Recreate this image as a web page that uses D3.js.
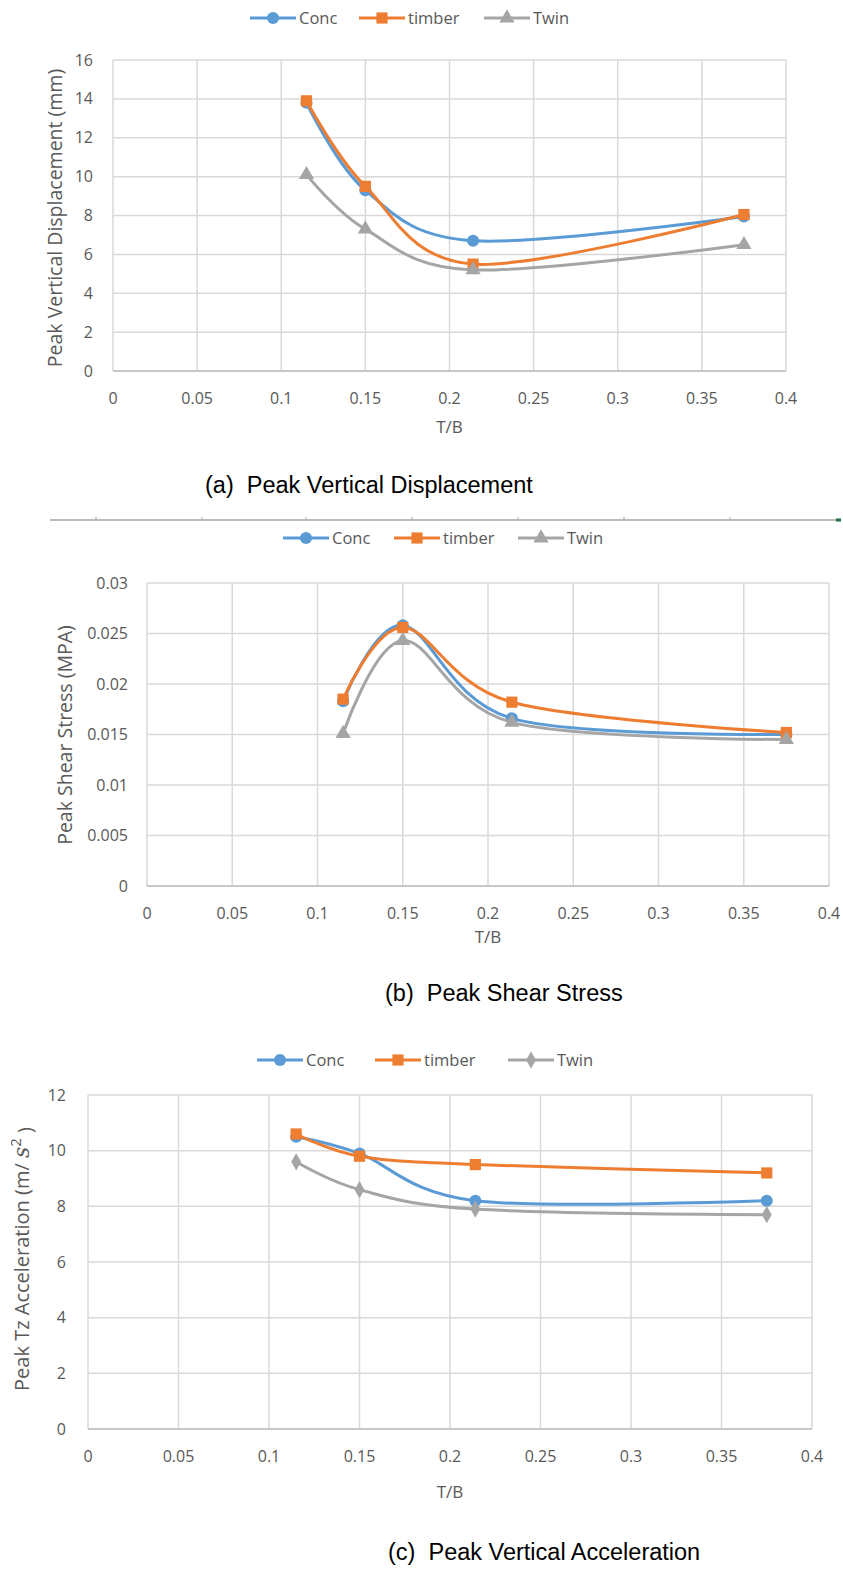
<!DOCTYPE html>
<html>
<head>
<meta charset="utf-8">
<script src="https://cdn.jsdelivr.net/npm/d3@7"></script>
<style>
  body { margin: 0; background: #fff; }
  svg { display: block; }
</style>
</head>
<body>
<div id="chart"></div>
<script>
// x values shared by all three panels
var tbValues = [0.115, 0.15, 0.214, 0.375];
var seriesNames = ["Conc", "timber", "Twin"];

// (a) peak vertical displacement (mm)
var dispConc   = [13.8, 9.3, 6.7, 7.95];
var dispTimber = [13.9, 9.5, 5.5, 8.05];
var dispTwin   = [10.1, 7.3, 5.2, 6.5];

// (b) peak shear stress (MPA)
var shearConc   = [0.0183, 0.0258, 0.0166, 0.0150];
var shearTimber = [0.0185, 0.0256, 0.0182, 0.0152];
var shearTwin   = [0.0151, 0.0243, 0.0162, 0.0145];

// (c) peak Tz acceleration
var accConc   = [10.5, 9.9, 8.2, 8.2];
var accTimber = [10.6, 9.8, 9.5, 9.2];
var accTwin   = [9.6, 8.6, 7.9, 7.7];

// tick labels
var xTicks = [0, 0.05, 0.1, 0.15, 0.2, 0.25, 0.3, 0.35, 0.4];
var dispTicks = [0, 2, 4, 6, 8, 10, 12, 14, 16];
var shearTicks = [0, 0.005, 0.01, 0.015, 0.02, 0.025, 0.03];
var accTicks = [0, 2, 4, 6, 8, 10, 12];

var colors = ["#5B9BD5", "#ED7D31", "#A5A5A5"];
var gridColor = "#D9D9D9";
var textColor = "#595959";
var uiFont = "'Open Sans', 'Noto Sans', sans-serif";

var svg = d3.select("#chart").append("svg")
  .attr("width", 843)
  .attr("height", 1571);

svg.append("rect").attr("width", 843).attr("height", 1571).attr("fill", "#fff");

var fmt = function(d){ return String(+d.toFixed(4)); };

function drawPanel(p) {
  var x = d3.scaleLinear().domain([0, 0.4]).range([p.left, p.right]);
  var y = d3.scaleLinear().domain([0, d3.max(p.yTicks)]).range([p.bottom, p.top]);
  var g = svg.append("g");

  // grid
  g.selectAll(".hgrid").data(p.yTicks).enter().append("line")
    .attr("x1", p.left).attr("x2", p.right)
    .attr("y1", function(d){ return y(d); }).attr("y2", function(d){ return y(d); })
    .attr("stroke", gridColor).attr("stroke-width", 1.5);
  g.selectAll(".vgrid").data(xTicks).enter().append("line")
    .attr("y1", p.top).attr("y2", p.bottom)
    .attr("x1", function(d){ return x(d); }).attr("x2", function(d){ return x(d); })
    .attr("stroke", gridColor).attr("stroke-width", 1.5);
  // x axis line
  g.append("line").attr("x1", p.left).attr("x2", p.right)
    .attr("y1", y(0)).attr("y2", y(0))
    .attr("stroke", "#C8C8C8").attr("stroke-width", 2);

  // tick labels
  g.selectAll(".ylab").data(p.yTicks).enter().append("text")
    .attr("x", p.left - p.tickGap).attr("y", function(d){ return y(d); })
    .attr("dy", "0.35em").attr("text-anchor", "end")
    .style("font-family", uiFont).style("font-size", "16px").attr("fill", textColor)
    .text(fmt);
  g.selectAll(".xlab").data(xTicks).enter().append("text")
    .attr("x", function(d){ return x(d); }).attr("y", p.bottom + 27)
    .attr("dy", "0.35em").attr("text-anchor", "middle")
    .style("font-family", uiFont).style("font-size", "16px").attr("fill", textColor)
    .text(fmt);

  // axis titles
  g.append("text")
    .attr("x", (p.left + p.right) / 2).attr("y", p.tbY)
    .attr("dy", "0.35em").attr("text-anchor", "middle")
    .style("font-family", uiFont).style("font-size", "17px").attr("fill", textColor)
    .text("T/B");
  var yt = g.append("text")
    .attr("transform", "translate(" + p.yTitleX + "," + p.yTitleY + ") rotate(-90)")
    .attr("dy", "0.35em").attr("text-anchor", "middle")
    .style("font-family", uiFont).style("font-size", p.yTitleSize + "px").attr("fill", textColor);
  if (p.superTitle) {
    yt.append("tspan").text("Peak Tz Acceleration (m/ ");
    yt.append("tspan").style("font-family", "'DejaVu Serif', serif").style("font-style", "italic")
      .style("font-size", "22px").text("s");
    yt.append("tspan").attr("dy", "-0.55em").style("font-size", "15px").text("2");
    yt.append("tspan").attr("dy", "0.55em").text(" )");
  } else {
    yt.text(p.yTitle);
  }

  // series
  var line = d3.line()
    .x(function(d){ return x(d[0]); })
    .y(function(d){ return y(d[1]); })
    .curve(d3.curveCatmullRom.alpha(0));
  var symbols = [d3.symbolCircle, d3.symbolSquare, p.twinSymbol];
  var sizes = [115, 125, p.twinSymbol === d3.symbolDiamond ? 85 : 100];

  p.series.forEach(function(vals, i) {
    var pts = tbValues.map(function(t, j){ return [t, vals[j]]; });
    g.append("path").datum(pts)
      .attr("d", line).attr("fill", "none")
      .attr("stroke", colors[i]).attr("stroke-width", 3)
      .attr("stroke-linejoin", "round").attr("stroke-linecap", "round");
    g.selectAll(".m" + i).data(pts).enter().append("path")
      .attr("transform", function(d){ return "translate(" + x(d[0]) + "," + y(d[1]) + ")"; })
      .attr("d", d3.symbol().type(symbols[i]).size(sizes[i]))
      .attr("fill", colors[i]);
  });

  // legend
  seriesNames.forEach(function(name, i) {
    var lx = p.legendX[i];
    g.append("line").attr("x1", lx).attr("x2", lx + 46)
      .attr("y1", p.legendY).attr("y2", p.legendY)
      .attr("stroke", colors[i]).attr("stroke-width", 3);
    g.append("path")
      .attr("transform", "translate(" + (lx + 23) + "," + p.legendY + ")")
      .attr("d", d3.symbol().type(symbols[i]).size(sizes[i]))
      .attr("fill", colors[i]);
    g.append("text").attr("x", lx + 49).attr("y", p.legendY).attr("dy", "0.35em")
      .style("font-family", uiFont).style("font-size", "16.5px").attr("fill", textColor)
      .text(name);
  });

  // caption
  svg.append("text").attr("x", p.captionX).attr("y", p.captionY)
    .style("font-family", "'Liberation Sans', Arial, sans-serif").style("font-size", "23.5px")
    .attr("fill", "#000").attr("xml:space", "preserve")
    .text(p.caption);
}

drawPanel({
  left: 113, right: 786, top: 60, bottom: 371,
  yTicks: dispTicks, tickGap: 20,
  series: [dispConc, dispTimber, dispTwin], twinSymbol: d3.symbolTriangle,
  yTitle: "Peak Vertical Displacement (mm)", yTitleX: 55, yTitleY: 218, yTitleSize: 19.5, tbY: 427,
  legendY: 18, legendX: [250, 359, 484],
  caption: "(a)  Peak Vertical Displacement", captionX: 205, captionY: 493
});

// leftover border line above panel (b)
svg.append("line").attr("x1", 50).attr("x2", 841).attr("y1", 520).attr("y2", 520)
  .attr("stroke", "#A6A6A6").attr("stroke-width", 1.5);
svg.selectAll(".stub").data([96, 202, 306, 412, 518, 624, 730]).enter().append("line")
  .attr("x1", function(d){ return d; }).attr("x2", function(d){ return d; })
  .attr("y1", 517).attr("y2", 520).attr("stroke", "#A6A6A6").attr("stroke-width", 1);
svg.append("rect").attr("x", 836).attr("y", 518.5).attr("width", 5).attr("height", 3)
  .attr("fill", "#217346");

drawPanel({
  left: 147, right: 829, top: 583, bottom: 886,
  yTicks: shearTicks, tickGap: 19,
  series: [shearConc, shearTimber, shearTwin], twinSymbol: d3.symbolTriangle,
  yTitle: "Peak Shear Stress (MPA)", yTitleX: 65, yTitleY: 735, yTitleSize: 19.5, tbY: 937,
  legendY: 538, legendX: [283, 394, 518],
  caption: "(b)  Peak Shear Stress", captionX: 385, captionY: 1001
});

drawPanel({
  left: 88, right: 812, top: 1095, bottom: 1429,
  yTicks: accTicks, tickGap: 22,
  series: [accConc, accTimber, accTwin], twinSymbol: d3.symbolDiamond,
  superTitle: true, yTitleX: 22, yTitleY: 1259, yTitleSize: 20, tbY: 1492,
  legendY: 1060, legendX: [257, 375, 508],
  caption: "(c)  Peak Vertical Acceleration", captionX: 388, captionY: 1560
});
</script>
</body>
</html>
